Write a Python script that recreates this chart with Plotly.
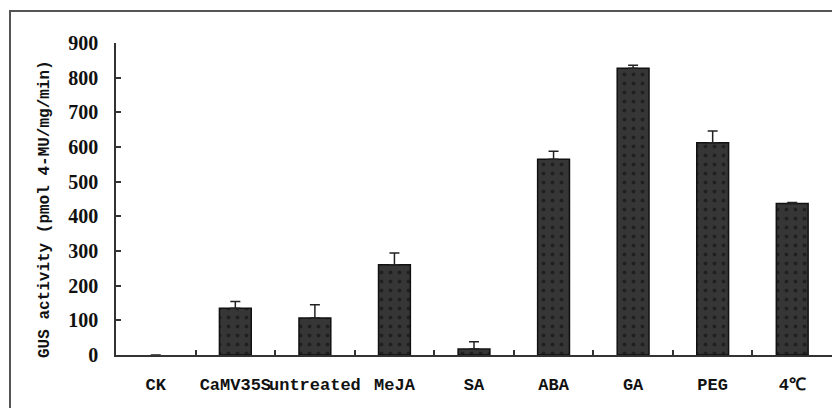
import plotly.graph_objects as go

categories = ["CK", "CaMV35S", "untreated", "MeJA", "SA", "ABA", "GA", "PEG", "4℃"]
values = [0, 135, 107, 260, 17, 565, 827, 612, 437]
errors = [0, 19, 38, 34, 21, 23, 9, 34, 3]
y_ticks = [0, 100, 200, 300, 400, 500, 600, 700, 800, 900]
y_title = "GUS activity (pmol 4-MU/mg/min)"

W, H = 840, 408
OFF = 8  # page body offset
# target plot area in window pixels: x 116..832, y 43..355
L = 116 - OFF
T = 43 - OFF
R = W - (832 - OFF)
B = H - (355 - OFF)
pw, ph = W - L - R, H - T - B

def px_x(p):
    return (p - OFF - L) / pw

def px_y(p):
    return (H - B - (p - OFF)) / ph

outline_widths = [1.5 if v > 0 else 0 for v in values]
err_colors = "#222222"

fig = go.Figure()
fig.add_trace(go.Bar(
    x=categories,
    y=values,
    width=0.4,
    marker=dict(
        color="#333333",
        line=dict(color="#111111", width=outline_widths),
        pattern=dict(shape=".", fgcolor="#0a0a0a", bgcolor="#363636", size=9, solidity=0.15),
    ),
    error_y=dict(type="data", symmetric=False,
                 array=[e if e > 0 else None for e in errors],
                 arrayminus=[0] * len(errors),
                 color=err_colors, thickness=1.5, width=5),
))

fig.update_layout(
    width=W, height=H,
    margin=dict(l=L, r=R, t=T, b=B, autoexpand=False),
    paper_bgcolor="white", plot_bgcolor="white",
    showlegend=False,
    xaxis=dict(
        type="category", range=[-0.5, 8.5], automargin=False, tickangle=0,
        showline=True, linecolor="#333333", linewidth=1.5,
        ticks="inside", tickson="boundaries", ticklen=5, tickcolor="#333333", tickwidth=1.5,
        tickfont=dict(family="Liberation Mono", size=17, color="#111111", weight="bold"),
        ticklabelstandoff=13,
        showgrid=False, zeroline=False,
    ),
    yaxis=dict(
        range=[0, 900], tickvals=y_ticks, automargin=False,
        showline=True, linecolor="#333333", linewidth=1.5,
        ticks="inside", ticklen=5, tickcolor="#333333", tickwidth=1.5,
        tickfont=dict(family="Liberation Serif", size=20, color="#111111", weight="bold"),
        ticklabelstandoff=12,
        showgrid=False, zeroline=False,
    ),
    annotations=[dict(
        text=y_title, textangle=-90, showarrow=False,
        xref="paper", yref="paper", x=px_x(45), y=px_y(209),
        xanchor="center", yanchor="middle",
        font=dict(family="Liberation Mono", size=16, color="#111111", weight="bold"),
    )],
    shapes=[dict(
        type="path", xref="paper", yref="paper",
        path=f"M {px_x(10)} {px_y(420)} L {px_x(10)} {px_y(11)} L {px_x(850)} {px_y(11)}",
        line=dict(color="#555555", width=2),
    )],
)

fig.write_html("out.html")
